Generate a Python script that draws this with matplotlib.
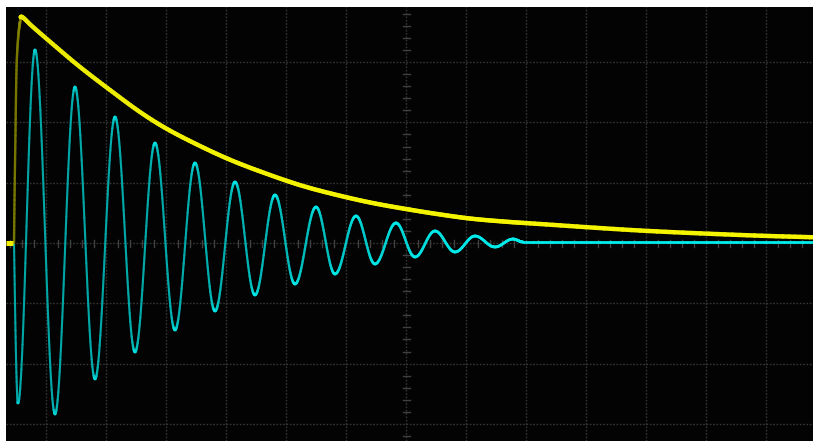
import numpy as np
import matplotlib
matplotlib.use("Agg")
import matplotlib.pyplot as plt
from matplotlib.collections import LineCollection

# ---- data (screen divisions: time horizontally, volts/div vertically) ----
# cyan channel: extrema of the ringing waveform
cyan_start_t = -6.533
cyan_start_v = 0.0
cyan_trough_t = [-6.467, -5.85, -5.183, -4.517, -3.85, -3.183, -2.517,
                 -1.85, -1.183, -0.517, 0.15, 0.817, 1.483]
cyan_trough_v = [-2.653, -2.836, -2.255, -1.808, -1.443, -1.128, -0.862,
                 -0.680, -0.514, -0.348, -0.232, -0.149, -0.066]
cyan_peak_t = [-6.183, -5.517, -4.85, -4.183, -3.517, -2.85, -2.183,
               -1.5, -0.833, -0.167, 0.483, 1.15, 1.783]
cyan_peak_v = [3.201, 2.587, 2.090, 1.658, 1.327, 1.012, 0.796,
               0.597, 0.448, 0.332, 0.199, 0.116, 0.066]
cyan_settle_t = [1.95, 6.783]
cyan_settle_v = [0.017, 0.017]

# yellow channel: envelope / decay trace
yellow_t = [-6.533, -6.525, -6.508, -6.492, -6.467, -6.433, -6.4, -6.217,
            -5.85, -5.433, -4.933, -4.433, -3.983, -3.433, -2.883, -2.267,
            -1.717, -1.15, -0.6, -0.05, 0.517, 1.067, 1.617, 2.233, 3.9,
            5.567, 6.783]
yellow_v = [0.0, 0.713, 1.874, 2.869, 3.366, 3.665, 3.748, 3.582,
            3.267, 2.919, 2.537, 2.172, 1.891, 1.609, 1.360, 1.128,
            0.945, 0.796, 0.672, 0.572, 0.481, 0.406, 0.357, 0.315, 0.207,
            0.133, 0.095]

# ---- layout ----
W, H = 813, 441
XL, XR = (6 - 406) / 60.0, (813 - 406) / 60.0
YB, YT = (243 - 441) / 60.3, (243 - 7) / 60.3
PX_X, PX_Y = 60.0, 60.3

fig = plt.figure(figsize=(W / 100, H / 100), dpi=100, facecolor="white")
ax = fig.add_axes([6 / W, 0, (W - 6) / W, (H - 7) / H])
ax.set_facecolor("#030303")
ax.set_xlim(XL, XR)
ax.set_ylim(YB, YT)
for sp in ax.spines.values():
    sp.set_visible(False)
ax.set_xticks([])
ax.set_yticks([])

grid_kw = dict(color="#363636", lw=1.0, linestyle=(0, (1.2, 1.2)), zorder=1)
for gx in range(-6, 7):
    ax.axvline(gx, **grid_kw)
for gy in range(-3, 4):
    ax.axhline(gy, **grid_kw)

# minor ticks on the centre cross
tick_c = "#404040"
for tx in np.arange(-6.6, 6.8, 0.2):
    if abs(tx - round(tx)) < 1e-6:
        continue
    ax.plot([tx, tx], [-3.5 / PX_Y, 3.5 / PX_Y], color=tick_c, lw=1, zorder=1)
for ty in np.arange(-3.2, 3.9, 0.2):
    if abs(ty - round(ty)) < 1e-6:
        continue
    ax.plot([-3.5 / PX_X, 3.5 / PX_X], [ty, ty], color=tick_c, lw=1, zorder=1)


def catmull(x, y, n=12):
    x = np.asarray(x, float)
    y = np.asarray(y, float)
    px = np.concatenate([[x[0]], x, [x[-1]]])
    py = np.concatenate([[y[0]], y, [y[-1]]])
    ox, oy = [], []
    u = np.linspace(0, 1, n, endpoint=False)
    for i in range(1, len(px) - 2):
        for arr, out in ((px, ox), (py, oy)):
            p0, p1, p2, p3 = arr[i - 1], arr[i], arr[i + 1], arr[i + 2]
            out.extend(0.5 * ((2 * p1) + (-p0 + p2) * u
                              + (2 * p0 - 5 * p1 + 4 * p2 - p3) * u ** 2
                              + (-p0 + 3 * p1 - 3 * p2 + p3) * u ** 3))
    ox.append(x[-1])
    oy.append(y[-1])
    return np.array(ox), np.array(oy)


def phosphor(x, y, rgb, fmin, k, lw, lwmin, z):
    x = np.asarray(x, float)
    y = np.asarray(y, float)
    pts = np.column_stack([x, y]).reshape(-1, 1, 2)
    segs = np.concatenate([pts[:-1], pts[1:]], axis=1)
    dx = np.diff(x) * PX_X
    dy = np.diff(y) * PX_Y
    s = np.abs(dy) / np.maximum(np.abs(dx), 1e-6)
    g = 1 / (1 + (s / k) ** 2)
    f = fmin + (1 - fmin) * g
    cols = np.clip(np.outer(f, rgb), 0, 1)
    lws = lwmin + (lw - lwmin) * g
    lc = LineCollection(segs, colors=cols, linewidths=lws, capstyle="round",
                        joinstyle="round", zorder=z)
    ax.add_collection(lc)


# cyan path through the extrema (cosine-shaped between turning points)
ext_t = [cyan_start_t]
ext_v = [cyan_start_v]
for i in range(len(cyan_trough_t)):
    ext_t += [cyan_trough_t[i], cyan_peak_t[i]]
    ext_v += [cyan_trough_v[i], cyan_peak_v[i]]
ext_t += cyan_settle_t
ext_v += cyan_settle_v

cx, cy = [], []
n = 30
for i in range(len(ext_t) - 1):
    t0, t1 = ext_t[i], ext_t[i + 1]
    v0, v1 = ext_v[i], ext_v[i + 1]
    u = np.linspace(0, 1, n, endpoint=False)
    if i == 0:
        w = np.sin(np.pi / 2 * u)
    else:
        w = (1 - np.cos(np.pi * u)) / 2
    cx.extend(t0 + (t1 - t0) * u)
    cy.extend(v0 + (v1 - v0) * w)
cx.append(ext_t[-1])
cy.append(ext_v[-1])

phosphor(cx, cy, np.array([0.0, 0.92, 0.92]), 0.70, 4.0, 2.0, 1.5, 3)

yx, yy = catmull(yellow_t, yellow_v)
phosphor(yx, yy, np.array([0.96, 0.96, 0.0]), 0.48, 3.0, 3.2, 1.7, 4)

# channel ground marker
ax.plot([XL, XL + 7 / PX_X], [0, 0], color="#f0f000", lw=3.6,
        solid_capstyle="butt", zorder=5)

fig.savefig("out.png", dpi=100, facecolor="white")
